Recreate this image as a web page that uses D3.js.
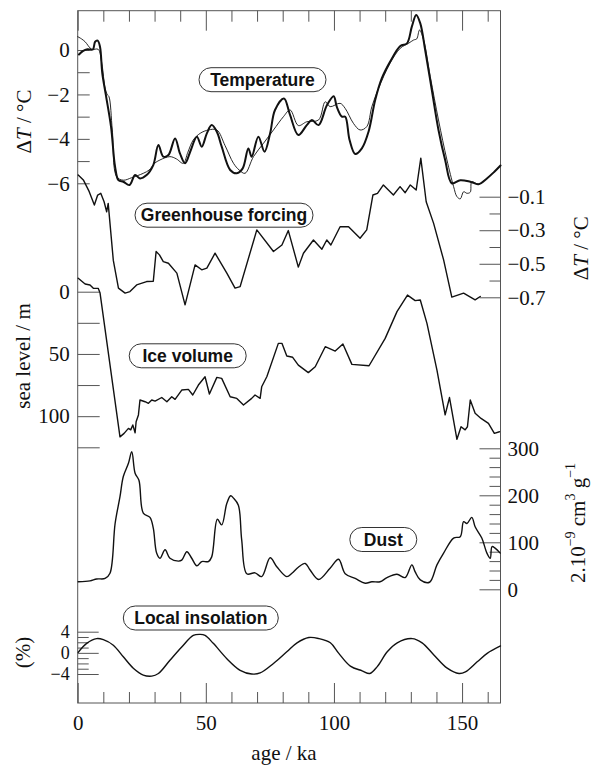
<!DOCTYPE html>
<html><head><meta charset="utf-8">
<script src="https://cdn.jsdelivr.net/npm/d3@7"></script>
<style>body{margin:0;background:#fff}</style>
</head><body><svg id="c" width="597" height="765"></svg>
<script>
// ---------------- data (age in ka, value) ----------------
const tempThick = [[0.5,-0.2],[2,-0.05],[3.8,0.03],[5.9,0.02],[6.8,0.37],[7.8,0.42],[8.7,0.15],[9.6,-1.05],[11,-2.03],[13,-3.45],[14.6,-5.26],[15.9,-5.86],[17.8,-5.93],[20.2,-6.08],[22.4,-5.63],[24.3,-5.78],[26.9,-5.63],[29.5,-5.18],[31.5,-4.28],[33.4,-4.8],[35.4,-4.73],[38,-3.98],[39.9,-4.65],[41.9,-5.1],[43.9,-4.58],[46.5,-3.9],[48.4,-4.35],[50.4,-3.75],[52.3,-3.38],[54.3,-3.68],[56.2,-4.35],[59.5,-5.4],[62.1,-5.55],[64.4,-5.33],[66.6,-4.43],[67.9,-4.8],[70.5,-3.9],[72.9,-4.58],[75.1,-3.75],[77,-2.7],[80.5,-2.18],[82.8,-2.9],[86.1,-3.83],[89.4,-3.38],[91.4,-3.15],[94,-3.38],[97.2,-2.5],[99.9,-2.08],[101.1,-2.55],[103.1,-3.0],[104.4,-3.0],[106.1,-4.05],[108.3,-4.68],[110.9,-4.43],[113.5,-3.68],[116.1,-2.25],[118.7,-1.27],[121.9,-0.53],[125.9,0.18],[128.5,0.3],[130.4,1.05],[132.1,1.58],[133.7,1.2],[135.6,0],[138.2,-1.8],[140.8,-3.6],[143.4,-4.95],[146,-6.0],[149.3,-5.86],[153.2,-5.93],[156.4,-6.04],[159.7,-5.78],[162.6,-5.48],[165,-5.2]];
const tempThin = [[0,0.6],[1.5,0.5],[2.9,0.37],[5.5,0.03],[8,0.03],[9.4,-0.6],[10.7,-1.73],[11.5,-2.0],[12.2,-2.1],[13.5,-3.6],[15.2,-5.7],[17.8,-5.86],[21,-5.75],[25.6,-5.55],[27.9,-5.4],[30,-5.1],[32.1,-4.95],[36,-4.8],[38.5,-4.9],[41.2,-5.1],[43,-4.6],[45.1,-4.05],[47.8,-3.75],[51,-3.6],[54.3,-3.6],[57.5,-4.3],[60.8,-5.1],[63,-5.4],[65.3,-5.55],[68.6,-4.8],[72.5,-4.2],[76.4,-3.6],[80.3,-3.0],[82.9,-2.7],[86.1,-3.4],[89.4,-3.23],[94,-3.15],[96.6,-2.33],[98.5,-2.55],[102.4,-2.4],[104.4,-2.63],[107.6,-3.3],[110.2,-3.6],[112.8,-3.45],[114.8,-2.55],[117.4,-1.73],[121.9,-0.6],[125.9,0.08],[129.1,0.3],[131.1,0.45],[132.3,0.5],[133.4,0.9],[135,0.45],[137.6,-1.2],[140.8,-3.15],[144.1,-4.95],[146.7,-6.15],[148,-6.6],[149.3,-6.7],[150.6,-6.38],[151.9,-6.45],[153.2,-6.4],[153.8,-5.93],[156.4,-6.04],[159.7,-5.78],[162.6,-5.48],[165,-5.2]];
const greenhouse = [[0.2,0.03],[2.2,0.0],[4.5,-0.07],[6.5,-0.15],[7.8,-0.09],[9.0,-0.08],[10.3,-0.13],[11.3,-0.19],[11.9,-0.14],[13.9,-0.48],[15.9,-0.645],[18.5,-0.675],[20.4,-0.666],[23.0,-0.626],[26.9,-0.606],[29.5,-0.604],[30.6,-0.427],[31.9,-0.447],[33.4,-0.487],[35.4,-0.497],[38.7,-0.556],[41.9,-0.745],[45.8,-0.507],[48.4,-0.536],[50.4,-0.526],[53.6,-0.437],[58.2,-0.556],[61.4,-0.645],[63.4,-0.636],[69.9,-0.298],[76.4,-0.427],[79.7,-0.388],[82.2,-0.302],[86.1,-0.52],[88.1,-0.437],[92.0,-0.358],[95.3,-0.413],[97.2,-0.358],[98.8,-0.388],[102.4,-0.279],[105.7,-0.279],[110.2,-0.348],[112.8,-0.298],[115.2,-0.09],[117.0,-0.08],[119.3,-0.03],[123.2,-0.09],[125.8,-0.04],[127.8,-0.076],[129.8,-0.03],[132.1,-0.06],[133.9,0.13],[136.0,-0.13],[138.9,-0.259],[142.8,-0.477],[146.0,-0.699],[150.6,-0.675],[155.1,-0.715],[157.1,-0.695]];
const seaLevel = [[0.2,-10.8],[2.9,-6.2],[4.8,-5.4],[6.1,-2.7],[8.0,-2.7],[8.7,0.8],[16.5,116.6],[18.1,113.8],[19.8,109.8],[20.7,111],[21.5,107],[22.4,113.3],[22.8,104.5],[23.7,99],[24.3,87],[26.3,88.4],[27.6,89.7],[28.9,87],[30.2,87.9],[32.8,85],[34.8,88.4],[36.7,84.4],[38.0,86.5],[40.6,79],[43.2,78.5],[44.9,83],[47.1,75],[49.7,68.3],[51.4,82.2],[54.3,68.8],[56.2,69.6],[59.5,84.4],[62.1,85.7],[64.7,91],[67.9,85.7],[69.2,83],[71.2,85.7],[71.8,76.4],[73.8,68.3],[78.3,41.5],[79.7,41.5],[81.6,51.7],[83.9,52.7],[86.1,59],[90.0,65],[92.7,60.3],[96.6,44.2],[100.5,47.7],[103.5,42],[107.0,58.4],[113.7,59.5],[120.0,37.5],[124.6,16],[128.7,2.7],[131.7,7.2],[133.7,6.7],[136.3,25.4],[140.2,63],[143.4,99],[145.1,85],[148.0,118.6],[149.6,108.5],[151.2,111],[152.1,108.5],[153.2,87],[155.1,97.7],[157.4,101.8],[160.3,105.8],[162.6,113.8],[164.6,112.5]];
const dust = [[0.2,16],[4.8,18],[7.4,22],[10.7,23],[12.6,34],[14.6,140],[16.5,197],[17.8,240],[19.8,268],[21.1,293],[22.4,247],[23.9,232],[25.6,162],[28.2,153],[29.5,130],[30.8,77],[32.1,66],[34.1,84],[36.0,66],[39.3,60],[40.6,62],[42.6,80],[44.5,66],[46.5,50],[48.4,59],[51.0,59],[52.3,69],[54.5,149],[56.2,137],[58.2,183],[59.7,199],[60.8,194],[62.7,179],[64.0,105],[66.0,33],[69.2,35],[71.8,27],[75.1,67],[77.7,48],[81.6,27],[83.6,34],[86.1,47],[88.8,55],[90.7,41],[94.0,21],[98.5,45],[101.8,64],[104.4,33],[108.3,23],[112.2,13],[114.8,16],[118.0,16],[120.7,25],[124.6,32],[127.8,25],[130.4,52],[131.7,37],[133.7,20],[137.3,15],[140.2,52],[142.8,77],[146.7,109],[149.3,112],[150.6,144],[151.9,140],[153.8,153],[155.1,133],[157.7,109],[159.7,77],[161.0,66],[161.7,91],[163.0,87],[164.9,77]];
const insolation = [[0.2,0.1],[3.5,1.8],[7.4,2.7],[10.0,2.5],[13.9,1.45],[17.8,-0.75],[21.7,-2.9],[25.6,-4.2],[28.9,-4.4],[31.5,-3.9],[36.0,-1.4],[40.6,1.1],[45.1,3.3],[47.8,3.5],[49.7,3.3],[52.9,1.8],[58.2,-1.1],[63.4,-3.3],[67.9,-4.0],[71.2,-3.8],[76.4,-2.0],[81.6,0.2],[85.6,1.9],[90.2,2.9],[94.1,2.7],[98.6,1.9],[101.9,-0.1],[106.4,-2.5],[111.0,-3.4],[114.0,-3.9],[116.9,-2.6],[120.8,0.2],[124.7,1.9],[130.5,2.7],[134.4,1.9],[139.0,-0.4],[144.2,-2.9],[148.8,-3.9],[151.3,-3.6],[155.9,-1.7],[159.8,-0.1],[165,1.3]];

const ageMajor = [0, 50, 100, 150];
const ageMinor = [10,20,30,40,60,70,80,90,110,120,130,140,160];
const tempTicks = [0,-2,-4,-6];
const tempMinor = [-1,-3,-5];
const ghTicks = [-0.1,-0.3,-0.5,-0.7];
const ghMinor = [-0.2,-0.4,-0.6];
const seaTicks = [0,50,100];
const seaMinor = [25,75,125];
const dustTicks = [0,100,200,300];
const dustMinor = [20,40,60,80,120,140,160,180,220,240,260,280];
const insTicks = [4,0,-4];
const insMinor = [3,2,1,-1,-2,-3];
const panelLabels = ["Temperature","Greenhouse forcing","Ice volume","Dust","Local insolation"];

// ---------------- layout ----------------
const svg = d3.select('#c');
const L = 77.7, R = 500.5, T = 10.7, B = 703;
const x = d3.scaleLinear().domain([0,165]).range([L,R]);
const yT = d3.scaleLinear().domain([0,-6]).range([50,183.3]);
const yG = d3.scaleLinear().domain([-0.1,-0.7]).range([196.7,297.3]);
const yS = d3.scaleLinear().domain([0,125]).range([291.7,447.3]);
const yD = d3.scaleLinear().domain([0,300]).range([589.3,448.3]);
const yI = d3.scaleLinear().domain([4,-4]).range([631.7,674]);

const serif = "'Liberation Serif','Times New Roman',serif";
const axisColor = "#555";

function styleAxis(g, fs){
  g.select('.domain').remove();
  g.selectAll('line').attr('stroke', axisColor).attr('stroke-width',1);
  g.selectAll('text').attr('font-family', serif).attr('font-size', fs || 21).attr('fill','#111');
}
function fmt(d){ return d < 0 ? "\u2212" + Math.abs(d) : String(d); }

// frame
svg.append('rect').attr('x',L).attr('y',T).attr('width',R-L).attr('height',B-T)
  .attr('fill','none').attr('stroke',axisColor).attr('stroke-width',1);

// top / bottom axes
svg.append('g').attr('transform',`translate(0,${T})`)
  .call(d3.axisTop(x).tickValues(ageMajor).tickSize(-20).tickFormat('')).call(styleAxis);
svg.append('g').attr('transform',`translate(0,${T})`)
  .call(d3.axisTop(x).tickValues(ageMinor).tickSize(-11).tickFormat('')).call(styleAxis);
svg.append('g').attr('transform',`translate(0,${B})`)
  .call(d3.axisBottom(x).tickValues(ageMajor).tickSize(-20).tickPadding(12).tickFormat(d3.format('d'))).call(styleAxis);
svg.append('g').attr('transform',`translate(0,${B})`)
  .call(d3.axisBottom(x).tickValues(ageMinor).tickSize(-11).tickFormat('')).call(styleAxis);

// left axes
function leftAxis(scale, major, minor, majLen, minLen, fs){
  svg.append('g').attr('transform',`translate(${L},0)`)
    .call(d3.axisLeft(scale).tickValues(major).tickSize(-majLen).tickPadding(8).tickFormat(fmt)).call(styleAxis, fs);
  if (minor.length) svg.append('g').attr('transform',`translate(${L},0)`)
    .call(d3.axisLeft(scale).tickValues(minor).tickSize(-minLen).tickFormat('')).call(styleAxis);
}
function rightAxis(scale, major, minor, majLen, minLen, f){
  svg.append('g').attr('transform',`translate(${R},0)`)
    .call(d3.axisRight(scale).tickValues(major).tickSize(-majLen).tickPadding(7).tickFormat(f)).call(styleAxis);
  if (minor.length) svg.append('g').attr('transform',`translate(${R},0)`)
    .call(d3.axisRight(scale).tickValues(minor).tickSize(-minLen).tickFormat('')).call(styleAxis);
}
leftAxis(yT, tempTicks, tempMinor, 12, 12);
leftAxis(yS, seaTicks, seaMinor, 22, 22);
leftAxis(yI, insTicks, insMinor, 21, 11, 18);
rightAxis(yG, ghTicks, ghMinor, 21, 11, d => "\u2212" + Math.abs(d).toFixed(1));
rightAxis(yD, dustTicks, dustMinor, 21, 11, d3.format('d'));

// axis titles
function vtitle(cx, cy, build){
  const t = svg.append('text').attr('transform',`translate(${cx},${cy}) rotate(-90)`)
    .attr('text-anchor','middle').attr('dominant-baseline','central')
    .attr('font-family', serif).attr('font-size', 21).attr('fill','#111');
  build(t);
}
vtitle(24, 121.5, t => { t.append('tspan').text('\u0394'); t.append('tspan').attr('font-style','italic').text('T'); t.append('tspan').text(' / \u00B0C'); });
vtitle(581, 248.3, t => { t.append('tspan').text('\u0394'); t.append('tspan').attr('font-style','italic').text('T'); t.append('tspan').text(' / \u00B0C'); });
vtitle(22.5, 356, t => t.text('sea level / m'));
vtitle(22.5, 652.5, t => t.text('(%)'));
vtitle(578, 523, t => {
  t.append('tspan').text('2.10');
  t.append('tspan').attr('font-size',14).attr('dy',-8).text('\u22129');
  t.append('tspan').attr('dy',8).text(' cm');
  t.append('tspan').attr('font-size',14).attr('dy',-8).text('3');
  t.append('tspan').attr('dy',8).text(' g');
  t.append('tspan').attr('font-size',14).attr('dy',-8).text('\u22121');
});
svg.append('text').attr('x',284).attr('y',760).attr('text-anchor','middle')
  .attr('font-family',serif).attr('font-size',21).attr('fill','#111').text('age / ka');

// curves
function drawLine(data, yScale, width, curve){
  svg.append('path').datum(data)
    .attr('d', d3.line().x(d => x(d[0])).y(d => yScale(d[1])).curve(curve))
    .attr('fill','none').attr('stroke','#111').attr('stroke-width',width)
    .attr('stroke-linejoin','round').attr('stroke-linecap','round');
}
const smooth = d3.curveCatmullRom.alpha(0.5);
drawLine(tempThin, yT, 0.9, smooth);
drawLine(tempThick, yT, 2, smooth);
drawLine(greenhouse, yG, 1.4, d3.curveLinear);
drawLine(seaLevel, yS, 1.4, d3.curveLinear);
drawLine(dust, yD, 1.4, smooth);
drawLine(insolation, yI, 1.4, smooth);

// pill labels
const pills = [
  {cx:262.5, cy:79.7, w:127},
  {cx:224,   cy:215.2, w:178},
  {cx:187.7, cy:355.8, w:117},
  {cx:383.3, cy:539.5, w:67},
  {cx:200.8, cy:618,   w:155}
];
pills.forEach((p,i) => {
  const g = svg.append('g');
  g.append('rect').attr('x',p.cx-p.w/2).attr('y',p.cy-12).attr('width',p.w).attr('height',24)
    .attr('rx',12).attr('ry',12).attr('fill','#fff').attr('stroke','#333').attr('stroke-width',1);
  g.append('text').attr('x',p.cx).attr('y',p.cy).attr('text-anchor','middle').attr('dominant-baseline','central')
    .attr('font-family',"'Liberation Sans',Arial,sans-serif").attr('font-weight','bold').attr('font-size',17.5)
    .attr('fill','#111').text(panelLabels[i]);
});
</script></body></html>
